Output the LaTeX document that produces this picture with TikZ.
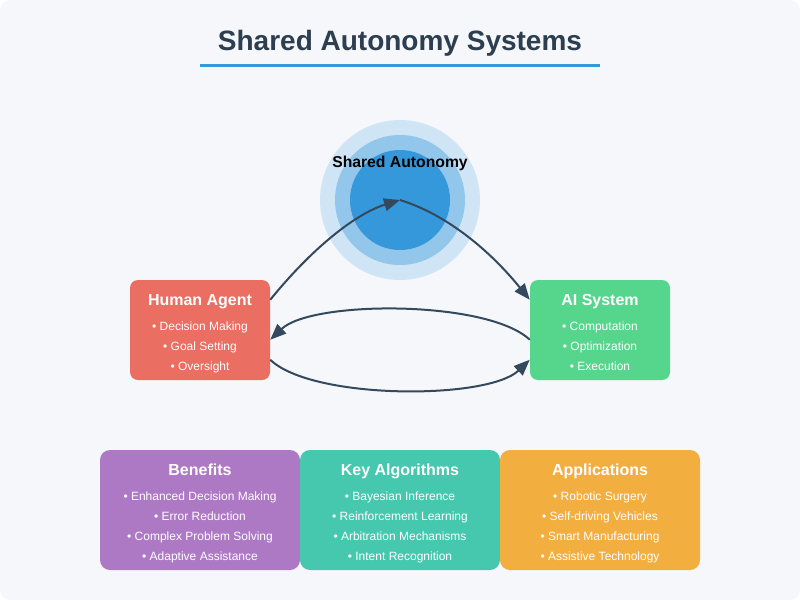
\documentclass[tikz,border=0pt]{standalone}
\usepackage{fontspec}
\setmainfont{Liberation Sans}
\usetikzlibrary{arrows.meta,positioning,calc}
\definecolor{bgcol}{HTML}{F5F7FA}
\definecolor{darktext}{HTML}{2C3E50}
\definecolor{linecol}{HTML}{34495E}
\definecolor{myblue}{HTML}{3498DB}
\definecolor{ringouter}{HTML}{CFE4F4}
\definecolor{ringmid}{HTML}{92C6EB}
\definecolor{humancol}{HTML}{EA6E62}
\definecolor{aicol}{HTML}{56D58C}
\definecolor{benefitcol}{HTML}{AD79C4}
\definecolor{algocol}{HTML}{46C8AF}
\definecolor{appcol}{HTML}{F3AE40}

\begin{document}
\begin{tikzpicture}[
  x=0.75pt, y=-0.75pt,
  agentbox/.style={
    rectangle,
    rounded corners=6pt,
    minimum width=105pt,
    minimum height=75pt,
    inner sep=0pt
    },
  infobox/.style={
    rectangle,
    rounded corners=7.5pt,
    minimum width=150pt,
    minimum height=90pt,
    inner sep=0pt
    },
  boxtitle/.style={anchor=base, text=white, font=\bfseries\fontsize{12}{14}\selectfont, inner sep=0pt},
  boxitem/.style={anchor=base, text=white, font=\fontsize{9}{11}\selectfont, inner sep=0pt},
  flow/.style={draw=linecol, line width=1.5pt, -{Triangle[length=12pt,width=9.5pt]}}
]
% page
\fill[white] (0,0) rectangle (800,600);
\fill[bgcol, rounded corners=7.5pt] (0,0) rectangle (800,600);

% title
\node[anchor=base, text=darktext, font=\bfseries\fontsize{21}{25}\selectfont, inner sep=0pt]
  (title) at (400,50) {Shared Autonomy Systems};
\coordinate (ul) at (200,65);
\coordinate (ur) at (600,65);
\draw[myblue, line width=2.25pt] (ul) -- (ur);

% shared core
\node[circle, fill=ringouter, minimum size=120pt, inner sep=0pt] (ring) at (400,200) {};
\node[circle, fill=ringmid, minimum size=97.5pt, inner sep=0pt] (mid) at (400,200) {};
\node[circle, fill=myblue, minimum size=75pt, inner sep=0pt] (core) at (400,200) {};
\node[anchor=base, font=\bfseries\fontsize{11.8}{14}\selectfont, inner sep=0pt]
  (coretext) at (400,167) {Shared Autonomy};

% agents
\node[agentbox, fill=humancol] (human) at (200,330) {};
\node[boxtitle] (humantitle) at (200,305) {Human Agent};
\foreach \Item [count=\i from 1] in {Decision Making, Goal Setting, Oversight}
  \node[boxitem] (humanitem\i) at (200,310+20*\i) {• \Item};

\node[agentbox, fill=aicol] (ai) at (600,330) {};
\node[boxtitle] (aititle) at (600,305) {AI System};
\foreach \Item [count=\i from 1] in {Computation, Optimization, Execution}
  \node[boxitem] (aiitem\i) at (600,310+20*\i) {• \Item};

% connectors
\coordinate (h1) at ($(human.north east)+(0,20)$);
\coordinate (h2) at ($(human.north east)+(0,60)$);
\coordinate (h3) at ($(human.north east)+(0,80)$);
\coordinate (a1) at ($(ai.north west)+(0,20)$);
\coordinate (a2) at ($(ai.north west)+(0,60)$);
\coordinate (a3) at ($(ai.north west)+(0,80)$);
\draw[flow] (h1) .. controls (313.3,246.7) and (356.7,213.3) .. (core.center);
\draw[flow] (core.center) .. controls (443.3,213.3) and (486.7,246.7) .. (a1);
\draw[flow] (a2) .. controls (488,300) and (312,300) .. (h2);
\draw[flow] (h3) .. controls (312,400) and (488,400) .. (a3);

% info boxes
\node[infobox, fill=benefitcol] (benefits) at (200,510) {};
\node[boxtitle] (benefitstitle) at (200,475) {Benefits};
\foreach \Item [count=\i from 1] in {Enhanced Decision Making, Error Reduction, Complex Problem Solving, Adaptive Assistance}
  \node[boxitem] (benefitsitem\i) at (200,480+20*\i) {• \Item};

\node[infobox, fill=algocol] (algos) at (400,510) {};
\node[boxtitle] (algostitle) at (400,475) {Key Algorithms};
\foreach \Item [count=\i from 1] in {Bayesian Inference, Reinforcement Learning, Arbitration Mechanisms, Intent Recognition}
  \node[boxitem] (algositem\i) at (400,480+20*\i) {• \Item};

\node[infobox, fill=appcol] (apps) at (600,510) {};
\node[boxtitle] (appstitle) at (600,475) {Applications};
\foreach \Item [count=\i from 1] in {Robotic Surgery, Self-driving Vehicles, Smart Manufacturing, Assistive Technology}
  \node[boxitem] (appsitem\i) at (600,480+20*\i) {• \Item};

\end{tikzpicture}
\end{document}
